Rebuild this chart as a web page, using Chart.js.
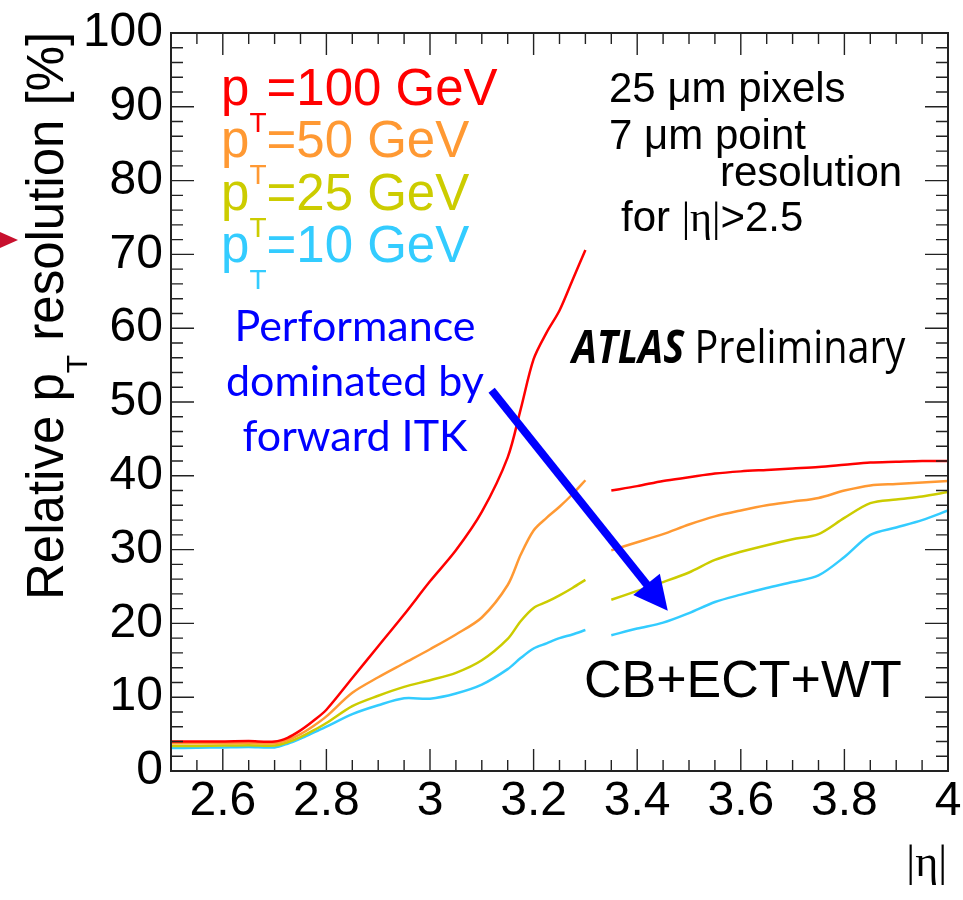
<!DOCTYPE html>
<html lang="en">
<head>
  <meta charset="UTF-8" />
  <title>Relative pT resolution vs |eta|</title>
  <script src="https://cdn.jsdelivr.net/npm/chart.js"></script>
  <style>
    body { margin: 0; background: #fff; }
    #wrap { position: relative; width: 963px; height: 900px; overflow: hidden; }
    .t { position: absolute; white-space: nowrap; line-height: 1; font-family: 'Liberation Sans', Arial, sans-serif; color: #000; }
    .leg { font-size: 51px; }
    .leg .sub { font-size: 28px; position: relative; top: 27px; }
    .note { font-size: 42px; }
    .eta { font-family: 'Liberation Serif', serif; }
    #ytitle { font-size: 51px; transform-origin: 0 0; transform: rotate(-90deg); }
    #ytitle .sub { font-size: 30px; position: relative; top: 24px; }
    #itk { font-family: Lato, 'Open Sans', sans-serif; font-size: 43px; line-height: 55px; color: #0000ff; text-align: center; width: 320px; }
    #atlas { font-family: 'Open Sans', sans-serif; font-size: 46px; transform-origin: 0 0; transform: scaleX(0.86); }
    #marker { position: absolute; left: 0; top: 232px; width: 0; height: 0;
      border-top: 8px solid transparent; border-bottom: 8px solid transparent; border-left: 18px solid #c8102e; }
  </style>
</head>
<body>
<div id="wrap">
  <canvas id="chart"></canvas>

  <div id="marker"></div>
  <div class="t" id="ytitle" style="left:20px; top:600px;">Relative p<span class="sub">T</span> resolution [%]</div>
  <div class="t eta" style="right:16px; top:840px; font-size:44px;">|η|</div>

  <div class="t leg" style="left:221px; top:62px; color:#ff0000;">p<span class="sub">T</span>=100 GeV</div>
  <div class="t leg" style="left:221px; top:114px; color:#ff9933;">p<span class="sub">T</span>=50 GeV</div>
  <div class="t leg" style="left:221px; top:167px; color:#cccc00;">p<span class="sub">T</span>=25 GeV</div>
  <div class="t leg" style="left:221px; top:219px; color:#33ccff;">p<span class="sub">T</span>=10 GeV</div>

  <div class="t note" style="left:609px; top:67px;">25 μm pixels</div>
  <div class="t note" style="left:609px; top:114px;">7 μm point</div>
  <div class="t note" style="left:720px; top:151px;">resolution</div>
  <div class="t note" style="left:621px; top:196px;">for <span class="eta">|η|</span>&gt;2.5</div>

  <div class="t" id="itk" style="left:195px; top:297px;">Performance<br>dominated by<br>forward ITK</div>
  <div class="t" id="atlas" style="left:572px; top:322px;"><b><i>ATLAS</i></b> Preliminary</div>
  <div class="t" style="left:584px; top:653px; font-size:52px;">CB+ECT+WT</div>
</div>

<script>
  // |eta| sampling points; 3.325 is the gap between the two curve pieces
  const eta = [2.5, 2.55, 2.6, 2.65, 2.7, 2.725, 2.75, 2.775, 2.8, 2.85, 2.9, 2.95, 3.0, 3.05, 3.1,
               3.15, 3.175, 3.2, 3.225, 3.25, 3.275, 3.3, 3.325,
               3.35, 3.4, 3.45, 3.5, 3.55, 3.6, 3.65, 3.7, 3.75, 3.8, 3.85, 3.9, 3.95, 4.0];

  // relative pT resolution [%]
  const res100 = [4.0, 4.0, 4.0, 4.05, 4.0, 4.5, 5.5, 6.8, 8.3, 12.6, 16.9, 21.2, 25.7, 29.9, 35.1,
                  42.5, 49.0, 55.8, 59.4, 62.4, 66.5, 70.6, null,
                  38.0, 38.6, 39.3, 39.8, 40.3, 40.6, 40.8, 41.0, 41.2, 41.5, 41.8, 41.9, 42.0, 42.0];
  const res50 = [3.75, 3.75, 3.75, 3.8, 3.75, 4.2, 5.0, 6.1, 7.4, 10.6, 12.7, 14.6, 16.5, 18.5, 20.8,
                 25.2, 29.3, 32.6, 34.3, 35.8, 37.5, 39.4, null,
                 29.9, 31.0, 32.1, 33.4, 34.5, 35.3, 36.0, 36.5, 37.0, 38.0, 38.7, 38.9, 39.1, 39.3];
  const res25 = [3.4, 3.4, 3.45, 3.5, 3.45, 3.9, 4.6, 5.5, 6.5, 8.8, 10.2, 11.4, 12.3, 13.3, 15.0,
                 17.9, 20.3, 22.1, 22.9, 23.8, 24.8, 25.9, null,
                 23.2, 24.4, 25.6, 26.9, 28.6, 29.7, 30.6, 31.4, 32.1, 34.3, 36.3, 36.8, 37.2, 37.8];
  const res10 = [3.1, 3.15, 3.2, 3.25, 3.2, 3.7, 4.4, 5.2, 6.0, 7.7, 8.9, 9.85, 9.8, 10.5, 11.7,
                 13.8, 15.3, 16.6, 17.3, 18.0, 18.5, 19.1, null,
                 18.4, 19.3, 20.1, 21.4, 22.9, 23.9, 24.8, 25.6, 26.5, 29.0, 32.0, 33.0, 34.0, 35.3];

  const xTicks = [2.6, 2.8, 3.0, 3.2, 3.4, 3.6, 3.8, 4.0];
  const yTicks = [0, 10, 20, 30, 40, 50, 60, 70, 80, 90, 100];

  // arrow annotation, in (|eta|, %) coordinates
  const arrowFrom = [3.119, 51.6];
  const arrowTo = [3.459, 21.7];

  const pts = arr => eta.map((x, i) => ({ x: x, y: arr[i] }));

  const series = [
    { label: 'pT=100 GeV', data: pts(res100), color: '#ff0000' },
    { label: 'pT=50 GeV', data: pts(res50), color: '#ff9933' },
    { label: 'pT=25 GeV', data: pts(res25), color: '#cccc00' },
    { label: 'pT=10 GeV', data: pts(res10), color: '#33ccff' }
  ];

  // frame with inside ticks on all four sides, plus the blue arrow
  const framePlugin = {
    id: 'frame',
    afterDatasetsDraw(chart) {
      const { ctx, chartArea: a, scales: { x, y } } = chart;
      ctx.save();
      ctx.strokeStyle = '#222';
      ctx.lineWidth = 1.4;
      ctx.beginPath();
      for (let i = 0; i <= 30; i++) {
        const px = x.getPixelForValue(2.5 + i * 0.05);
        const L = (i - 2) % 4 === 0 ? 22 : 11;
        ctx.moveTo(px, a.bottom); ctx.lineTo(px, a.bottom - L);
        ctx.moveTo(px, a.top); ctx.lineTo(px, a.top + L);
      }
      for (let v = 0; v <= 100; v += 2) {
        const py = y.getPixelForValue(v);
        const L = v % 10 === 0 ? 23 : 12;
        ctx.moveTo(a.left, py); ctx.lineTo(a.left + L, py);
        ctx.moveTo(a.right, py); ctx.lineTo(a.right - L, py);
      }
      ctx.stroke();
      ctx.lineWidth = 2;
      ctx.strokeRect(a.left, a.top, a.width, a.height);

      // arrow
      const x0 = x.getPixelForValue(arrowFrom[0]), y0 = y.getPixelForValue(arrowFrom[1]);
      const x1 = x.getPixelForValue(arrowTo[0]), y1 = y.getPixelForValue(arrowTo[1]);
      const ang = Math.atan2(y1 - y0, x1 - x0);
      const head = 34, half = 17;
      const bx = x1 - head * Math.cos(ang), by = y1 - head * Math.sin(ang);
      ctx.strokeStyle = '#0000ff';
      ctx.fillStyle = '#0000ff';
      ctx.lineWidth = 8;
      ctx.beginPath();
      ctx.moveTo(x0, y0); ctx.lineTo(bx + 2 * Math.cos(ang), by + 2 * Math.sin(ang));
      ctx.stroke();
      ctx.beginPath();
      ctx.moveTo(x1, y1);
      ctx.lineTo(bx + half * Math.sin(ang), by - half * Math.cos(ang));
      ctx.lineTo(bx - half * Math.sin(ang), by + half * Math.cos(ang));
      ctx.closePath();
      ctx.fill();
      ctx.restore();
    }
  };

  const canvas = document.getElementById('chart');
  canvas.width = 963; canvas.height = 900;

  new Chart(canvas.getContext('2d'), {
    type: 'line',
    data: {
      datasets: series.map(s => ({
        label: s.label,
        data: s.data,
        borderColor: s.color,
        backgroundColor: s.color,
        borderWidth: 2.5,
        pointRadius: 0,
        tension: 0.3,
        spanGaps: false,
        fill: false
      }))
    },
    options: {
      responsive: false,
      animation: false,
      events: [],
      layout: { padding: { top: 33, right: 15, left: 0, bottom: 0 } },
      plugins: { legend: { display: false }, tooltip: { enabled: false } },
      scales: {
        x: {
          type: 'linear',
          min: 2.5,
          max: 4.0,
          grid: { display: false, drawTicks: false },
          border: { display: false },
          afterBuildTicks: s => { s.ticks = xTicks.map(v => ({ value: v })); },
          afterFit: s => { s.height = 129; s.paddingLeft = 0; s.paddingRight = 0; },
          ticks: {
            autoSkip: false,
            maxRotation: 0,
            padding: 2,
            color: '#000',
            font: { family: 'Liberation Sans', size: 48 },
            callback: v => String(Math.round(v * 10) / 10)
          }
        },
        y: {
          type: 'linear',
          min: 0,
          max: 100,
          grid: { display: false, drawTicks: false },
          border: { display: false },
          afterBuildTicks: s => { s.ticks = yTicks.map(v => ({ value: v })); },
          afterFit: s => { s.width = 171; s.paddingTop = 0; s.paddingBottom = 0; },
          ticks: {
            padding: 8,
            color: '#000',
            font: { family: 'Liberation Sans', size: 48 }
          }
        }
      }
    },
    plugins: [framePlugin]
  });
</script>
</body>
</html>
